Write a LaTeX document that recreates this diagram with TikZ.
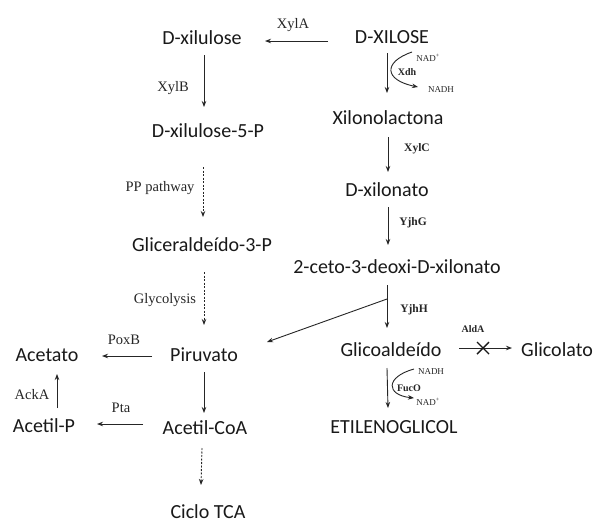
\documentclass[tikz,border=0pt]{standalone}
\usepackage{fontspec}
\setmainfont{Carlito}
\newfontfamily\lblfont{Liberation Serif}
\usetikzlibrary{arrows.meta,calc}
\begin{document}
\begin{tikzpicture}[x=1pt,y=-1pt,
  met/.style={inner sep=0pt, text height=13pt, text depth=0pt, text=black!90,
    font=\fontsize{20}{22}\selectfont},
  enz/.style={inner sep=0pt, text=black!85, font=\lblfont\fontsize{14.5}{16}\selectfont},
  enzb/.style={inner sep=0pt, text=black!85, font=\lblfont\bfseries\fontsize{11.5}{13}\selectfont},
  enzs/.style={inner sep=0pt, text=black!85, font=\lblfont\bfseries\fontsize{10}{11}\selectfont},
  cof/.style={inner sep=0pt, text=black!85, font=\lblfont\fontsize{9}{10}\selectfont},
  arr/.style={-{Stealth[length=6pt,width=4.5pt]}, line width=0.9pt, draw=black!85},
  darr/.style={arr, dash pattern=on 2pt off 1.5pt}
]
\useasboundingbox (0,0) rectangle (595,523);
\fill[white] (0,0) rectangle (595,523);

% metabolites
\node[met] (xyl)  at (392,37)  {D-XILOSE};
\node[met] (xlu)  at (202,38)  {D-xilulose};
\node[met] (xlu5) at (208,131) {D-xilulose-5-P};
\node[met] (g3p)  at (202,245) {Gliceraldeído-3-P};
\node[met] (pir)  at (204,355) {Piruvato};
\node[met] (ace)  at (47,355)  {Acetato};
\node[met] (aco)  at (205,428) {Acetil-CoA};
\node[met] (acp)  at (44,426)  {Acetil-P};
\node[met] (tca)  at (208,512) {Ciclo TCA};
\node[met] (xlac) at (388,118) {Xilonolactona};
\node[met] (xlo)  at (387,190) {D-xilonato};
\node[met] (kdx)  at (397,267) {2-ceto-3-deoxi-D-xilonato};
\node[met] (gla)  at (391,350) {Glicoaldeído};
\node[met] (glc)  at (557,350) {Glicolato};
\node[met] (eg)   at (394,427) {ETILENOGLICOL};

% enzyme labels
\node[enz] (lXylA) at (293,25)  {XylA};
\node[enz] (lXylB) at (173,88)  {XylB};
\node[enz] (lPP)   at (160,188) {PP pathway};
\node[enz] (lGly)  at (165,300) {Glycolysis};
\node[enz] (lPox)  at (124,340) {PoxB};
\node[enz] (lPta)  at (121,408) {Pta};
\node[enz] (lAck)  at (32,395)  {AckA};
\node[cof] (lNADp1) at (428,58) {NAD\textsuperscript{+}};
\node[enzs] (lXdh)  at (407,72) {Xdh};
\node[cof] (lNADH1) at (441,90) {NADH};
\node[enzb] (lXylC) at (417,149) {XylC};
\node[enzb] (lYjhG) at (413,223) {YjhG};
\node[enzb] (lYjhH) at (414,310) {YjhH};
\node[enzs] (lAldA) at (473,329) {AldA};
\node[cof] (lNADH2) at (431,372) {NADH};
\node[enzs] (lFucO) at (409,388) {FucO};
\node[cof] (lNADp2) at (428,402) {NAD\textsuperscript{+}};

% left branch
\draw[arr] ($(xyl)+(-64,4)$) -- ($(xlu)+(63,3)$);
\draw[arr] ($(xlu)+(2,17)$) -- ($(xlu5)+(-4,-24)$);
\draw[darr] ($(xlu5)+(-5,36)$) -- ($(g3p)+(1,-28)$);
\draw[darr] ($(g3p)+(2,27)$) -- ($(pir)+(0,-30)$);
\draw[arr] ($(pir)+(0,17)$) -- ($(aco)+(-1,-15)$);
\draw[darr] ($(aco)+(-3,20)$) -- ($(tca)+(-7,-27)$);
\draw[arr] ($(pir)+(-52,1)$) -- ($(ace)+(55,1)$);
\draw[arr] ($(aco)+(-62,-4)$) -- ($(acp)+(53,-2)$);
\draw[arr] ($(acp)+(13,-18)$) -- ($(ace)+(10,19)$);

% right branch
\draw[arr] ($(xyl)+(-5,16)$) -- ($(xlac)+(-1,-25)$);
\draw[arr] ($(xyl)+(20,15)$) .. controls (383,62) and (384,80) .. ($(xyl)+(26,50)$);
\draw[arr] ($(xlac)+(0,19)$) -- ($(xlo)+(1,-18)$);
\draw[arr] ($(xlo)+(1,17)$) -- ($(kdx)+(-9,-22)$);
\draw[arr] ($(kdx)+(-10,18)$) -- ($(gla)+(-4,-22)$);
\draw[arr] ($(kdx)+(-10,32)$) -- ($(pir)+(63,-13)$);
\draw[arr] ($(gla)+(-4,18)$) -- ($(eg)+(-6,-19)$);
\draw[arr] ($(gla)+(23,19)$) .. controls (385,377) and (386,395) .. ($(gla)+(23,48)$);
\draw[arr] ($(gla)+(68,-2)$) -- ($(glc)+(-45,-2)$);
\draw[line width=1.4pt, draw=black!90] ($(gla)+(86,-8)$) -- ($(gla)+(98,4)$)
  ($(gla)+(86,4)$) -- ($(gla)+(98,-8)$);
\end{tikzpicture}
\end{document}
